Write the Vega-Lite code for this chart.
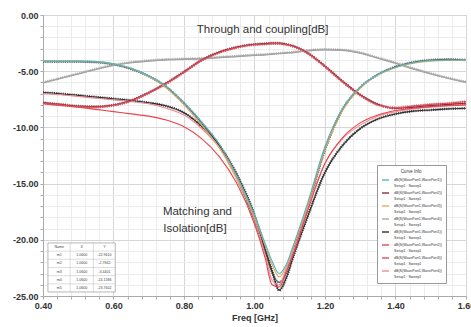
{
"$schema":"https://vega.github.io/schema/vega-lite/v6.json",
"width":423,"height":281,
"autosize":{"type":"none"},
"padding":{"left":43,"top":15,"right":5,"bottom":31},
"background":"white",
"config":{"view":{"stroke":"#b4b4b4","strokeWidth":1},"font":"Liberation Sans"},
"datasets":{
"curves":[
{"s":"s9","f":0.4,"db":-4.15},{"s":"s9","f":0.45,"db":-4.15},{"s":"s9","f":0.5,"db":-4.15},{"s":"s9","f":0.55,"db":-4.2},{"s":"s9","f":0.6,"db":-4.4},{"s":"s9","f":0.65,"db":-4.8},{"s":"s9","f":0.7,"db":-5.45},{"s":"s9","f":0.75,"db":-6.4},{"s":"s9","f":0.8,"db":-7.85},{"s":"s9","f":0.85,"db":-9.6},{"s":"s9","f":0.9,"db":-11.6},{"s":"s9","f":0.95,"db":-14.5},{"s":"s9","f":1.0,"db":-18.3},{"s":"s9","f":1.03,"db":-21.0},{"s":"s9","f":1.05,"db":-22.9},{"s":"s9","f":1.07,"db":-23.8},{"s":"s9","f":1.09,"db":-22.9},{"s":"s9","f":1.11,"db":-21.0},{"s":"s9","f":1.15,"db":-17.2},{"s":"s9","f":1.2,"db":-12.0},{"s":"s9","f":1.25,"db":-8.4},{"s":"s9","f":1.3,"db":-6.45},{"s":"s9","f":1.35,"db":-5.3},{"s":"s9","f":1.4,"db":-4.6},{"s":"s9","f":1.45,"db":-4.2},{"s":"s9","f":1.5,"db":-4.0},{"s":"s9","f":1.55,"db":-3.95},{"s":"s9","f":1.6,"db":-4.0},
{"s":"s10","f":0.4,"db":-6.05},{"s":"s10","f":0.45,"db":-5.65},{"s":"s10","f":0.5,"db":-5.25},{"s":"s10","f":0.55,"db":-4.85},{"s":"s10","f":0.6,"db":-4.5},{"s":"s10","f":0.65,"db":-4.25},{"s":"s10","f":0.7,"db":-4.1},{"s":"s10","f":0.75,"db":-4.0},{"s":"s10","f":0.8,"db":-3.95},{"s":"s10","f":0.85,"db":-3.9},{"s":"s10","f":0.9,"db":-3.8},{"s":"s10","f":0.95,"db":-3.7},{"s":"s10","f":1.0,"db":-3.6},{"s":"s10","f":1.03,"db":-3.55},{"s":"s10","f":1.05,"db":-3.5},{"s":"s10","f":1.07,"db":-3.45},{"s":"s10","f":1.09,"db":-3.4},{"s":"s10","f":1.11,"db":-3.35},{"s":"s10","f":1.15,"db":-3.2},{"s":"s10","f":1.2,"db":-3.1},{"s":"s10","f":1.25,"db":-3.15},{"s":"s10","f":1.3,"db":-3.4},{"s":"s10","f":1.35,"db":-3.85},{"s":"s10","f":1.4,"db":-4.3},{"s":"s10","f":1.45,"db":-4.8},{"s":"s10","f":1.5,"db":-5.25},{"s":"s10","f":1.55,"db":-5.65},{"s":"s10","f":1.6,"db":-6.0},
{"s":"s4","f":0.4,"db":-6.0},{"s":"s4","f":0.45,"db":-5.6},{"s":"s4","f":0.5,"db":-5.2},{"s":"s4","f":0.55,"db":-4.8},{"s":"s4","f":0.6,"db":-4.45},{"s":"s4","f":0.65,"db":-4.2},{"s":"s4","f":0.7,"db":-4.05},{"s":"s4","f":0.75,"db":-3.95},{"s":"s4","f":0.8,"db":-3.9},{"s":"s4","f":0.85,"db":-3.85},{"s":"s4","f":0.9,"db":-3.75},{"s":"s4","f":0.95,"db":-3.65},{"s":"s4","f":1.0,"db":-3.55},{"s":"s4","f":1.03,"db":-3.5},{"s":"s4","f":1.05,"db":-3.45},{"s":"s4","f":1.07,"db":-3.4},{"s":"s4","f":1.09,"db":-3.35},{"s":"s4","f":1.11,"db":-3.3},{"s":"s4","f":1.15,"db":-3.15},{"s":"s4","f":1.2,"db":-3.05},{"s":"s4","f":1.25,"db":-3.1},{"s":"s4","f":1.3,"db":-3.35},{"s":"s4","f":1.35,"db":-3.8},{"s":"s4","f":1.4,"db":-4.25},{"s":"s4","f":1.45,"db":-4.75},{"s":"s4","f":1.5,"db":-5.2},{"s":"s4","f":1.55,"db":-5.6},{"s":"s4","f":1.6,"db":-5.95},
{"s":"s5","f":0.4,"db":-6.9},{"s":"s5","f":0.45,"db":-7.0},{"s":"s5","f":0.5,"db":-7.15},{"s":"s5","f":0.55,"db":-7.3},{"s":"s5","f":0.6,"db":-7.45},{"s":"s5","f":0.65,"db":-7.6},{"s":"s5","f":0.7,"db":-7.8},{"s":"s5","f":0.75,"db":-8.1},{"s":"s5","f":0.8,"db":-8.7},{"s":"s5","f":0.85,"db":-9.9},{"s":"s5","f":0.9,"db":-11.6},{"s":"s5","f":0.95,"db":-14.2},{"s":"s5","f":1.0,"db":-17.8},{"s":"s5","f":1.03,"db":-20.8},{"s":"s5","f":1.05,"db":-22.8},{"s":"s5","f":1.07,"db":-24.5},{"s":"s5","f":1.09,"db":-23.4},{"s":"s5","f":1.11,"db":-21.5},{"s":"s5","f":1.15,"db":-18.0},{"s":"s5","f":1.2,"db":-14.0},{"s":"s5","f":1.25,"db":-11.6},{"s":"s5","f":1.3,"db":-10.1},{"s":"s5","f":1.35,"db":-9.25},{"s":"s5","f":1.4,"db":-8.8},{"s":"s5","f":1.45,"db":-8.55},{"s":"s5","f":1.5,"db":-8.45},{"s":"s5","f":1.55,"db":-8.35},{"s":"s5","f":1.6,"db":-8.3},
{"s":"s8","f":0.4,"db":-7.0},{"s":"s8","f":0.45,"db":-7.1},{"s":"s8","f":0.5,"db":-7.25},{"s":"s8","f":0.55,"db":-7.4},{"s":"s8","f":0.6,"db":-7.55},{"s":"s8","f":0.65,"db":-7.7},{"s":"s8","f":0.7,"db":-7.9},{"s":"s8","f":0.75,"db":-8.3},{"s":"s8","f":0.8,"db":-8.9},{"s":"s8","f":0.85,"db":-10.1},{"s":"s8","f":0.9,"db":-11.8},{"s":"s8","f":0.95,"db":-14.4},{"s":"s8","f":1.0,"db":-18.2},{"s":"s8","f":1.03,"db":-21.3},{"s":"s8","f":1.05,"db":-23.6},{"s":"s8","f":1.07,"db":-24.0},{"s":"s8","f":1.09,"db":-22.6},{"s":"s8","f":1.11,"db":-21.0},{"s":"s8","f":1.15,"db":-17.2},{"s":"s8","f":1.2,"db":-13.2},{"s":"s8","f":1.25,"db":-11.0},{"s":"s8","f":1.3,"db":-9.8},{"s":"s8","f":1.35,"db":-9.0},{"s":"s8","f":1.4,"db":-8.6},{"s":"s8","f":1.45,"db":-8.35},{"s":"s8","f":1.5,"db":-8.2},{"s":"s8","f":1.55,"db":-8.1},{"s":"s8","f":1.6,"db":-8.0},
{"s":"s6","f":0.4,"db":-7.9},{"s":"s6","f":0.45,"db":-8.05},{"s":"s6","f":0.5,"db":-8.2},{"s":"s6","f":0.55,"db":-8.4},{"s":"s6","f":0.6,"db":-8.6},{"s":"s6","f":0.65,"db":-8.8},{"s":"s6","f":0.7,"db":-9.0},{"s":"s6","f":0.75,"db":-9.35},{"s":"s6","f":0.8,"db":-9.95},{"s":"s6","f":0.85,"db":-11.0},{"s":"s6","f":0.9,"db":-12.6},{"s":"s6","f":0.95,"db":-15.0},{"s":"s6","f":1.0,"db":-18.6},{"s":"s6","f":1.03,"db":-21.6},{"s":"s6","f":1.05,"db":-24.0},{"s":"s6","f":1.07,"db":-24.2},{"s":"s6","f":1.09,"db":-22.9},{"s":"s6","f":1.11,"db":-21.3},{"s":"s6","f":1.15,"db":-17.5},{"s":"s6","f":1.2,"db":-13.2},{"s":"s6","f":1.25,"db":-10.9},{"s":"s6","f":1.3,"db":-9.6},{"s":"s6","f":1.35,"db":-8.9},{"s":"s6","f":1.4,"db":-8.5},{"s":"s6","f":1.45,"db":-8.3},{"s":"s6","f":1.5,"db":-8.15},{"s":"s6","f":1.55,"db":-8.05},{"s":"s6","f":1.6,"db":-8.0},
{"s":"s2","f":0.4,"db":-7.8},{"s":"s2","f":0.45,"db":-7.95},{"s":"s2","f":0.5,"db":-8.1},{"s":"s2","f":0.55,"db":-8.15},{"s":"s2","f":0.6,"db":-8.0},{"s":"s2","f":0.65,"db":-7.6},{"s":"s2","f":0.7,"db":-6.9},{"s":"s2","f":0.75,"db":-6.05},{"s":"s2","f":0.8,"db":-5.05},{"s":"s2","f":0.85,"db":-4.0},{"s":"s2","f":0.9,"db":-3.3},{"s":"s2","f":0.95,"db":-2.85},{"s":"s2","f":1.0,"db":-2.6},{"s":"s2","f":1.03,"db":-2.55},{"s":"s2","f":1.05,"db":-2.5},{"s":"s2","f":1.07,"db":-2.5},{"s":"s2","f":1.09,"db":-2.6},{"s":"s2","f":1.11,"db":-2.75},{"s":"s2","f":1.15,"db":-3.35},{"s":"s2","f":1.2,"db":-4.55},{"s":"s2","f":1.25,"db":-5.9},{"s":"s2","f":1.3,"db":-7.1},{"s":"s2","f":1.35,"db":-7.95},{"s":"s2","f":1.4,"db":-8.3},{"s":"s2","f":1.45,"db":-8.2},{"s":"s2","f":1.5,"db":-8.05},{"s":"s2","f":1.55,"db":-7.95},{"s":"s2","f":1.6,"db":-7.85},
{"s":"s7","f":0.4,"db":-7.85},{"s":"s7","f":0.45,"db":-8.0},{"s":"s7","f":0.5,"db":-8.15},{"s":"s7","f":0.55,"db":-8.2},{"s":"s7","f":0.6,"db":-8.05},{"s":"s7","f":0.65,"db":-7.65},{"s":"s7","f":0.7,"db":-6.95},{"s":"s7","f":0.75,"db":-6.1},{"s":"s7","f":0.8,"db":-5.1},{"s":"s7","f":0.85,"db":-4.05},{"s":"s7","f":0.9,"db":-3.35},{"s":"s7","f":0.95,"db":-2.9},{"s":"s7","f":1.0,"db":-2.65},{"s":"s7","f":1.03,"db":-2.6},{"s":"s7","f":1.05,"db":-2.55},{"s":"s7","f":1.07,"db":-2.55},{"s":"s7","f":1.09,"db":-2.65},{"s":"s7","f":1.11,"db":-2.8},{"s":"s7","f":1.15,"db":-3.4},{"s":"s7","f":1.2,"db":-4.6},{"s":"s7","f":1.25,"db":-5.95},{"s":"s7","f":1.3,"db":-7.15},{"s":"s7","f":1.35,"db":-8.0},{"s":"s7","f":1.4,"db":-8.25},{"s":"s7","f":1.45,"db":-8.1},{"s":"s7","f":1.5,"db":-7.95},{"s":"s7","f":1.55,"db":-7.85},{"s":"s7","f":1.6,"db":-7.7},
{"s":"s3","f":0.4,"db":-4.1},{"s":"s3","f":0.45,"db":-4.1},{"s":"s3","f":0.5,"db":-4.1},{"s":"s3","f":0.55,"db":-4.15},{"s":"s3","f":0.6,"db":-4.35},{"s":"s3","f":0.65,"db":-4.75},{"s":"s3","f":0.7,"db":-5.45},{"s":"s3","f":0.75,"db":-6.5},{"s":"s3","f":0.8,"db":-8.0},{"s":"s3","f":0.85,"db":-9.8},{"s":"s3","f":0.9,"db":-11.8},{"s":"s3","f":0.95,"db":-14.6},{"s":"s3","f":1.0,"db":-18.0},{"s":"s3","f":1.03,"db":-20.5},{"s":"s3","f":1.05,"db":-22.2},{"s":"s3","f":1.07,"db":-23.3},{"s":"s3","f":1.09,"db":-22.4},{"s":"s3","f":1.11,"db":-20.6},{"s":"s3","f":1.15,"db":-17.0},{"s":"s3","f":1.2,"db":-12.0},{"s":"s3","f":1.25,"db":-8.5},{"s":"s3","f":1.3,"db":-6.5},{"s":"s3","f":1.35,"db":-5.35},{"s":"s3","f":1.4,"db":-4.7},{"s":"s3","f":1.45,"db":-4.3},{"s":"s3","f":1.5,"db":-4.1},{"s":"s3","f":1.55,"db":-4.05},{"s":"s3","f":1.6,"db":-4.05},
{"s":"s1","f":0.4,"db":-4.1},{"s":"s1","f":0.45,"db":-4.1},{"s":"s1","f":0.5,"db":-4.1},{"s":"s1","f":0.55,"db":-4.15},{"s":"s1","f":0.6,"db":-4.35},{"s":"s1","f":0.65,"db":-4.75},{"s":"s1","f":0.7,"db":-5.4},{"s":"s1","f":0.75,"db":-6.35},{"s":"s1","f":0.8,"db":-7.8},{"s":"s1","f":0.85,"db":-9.5},{"s":"s1","f":0.9,"db":-11.5},{"s":"s1","f":0.95,"db":-14.3},{"s":"s1","f":1.0,"db":-17.8},{"s":"s1","f":1.03,"db":-20.3},{"s":"s1","f":1.05,"db":-21.9},{"s":"s1","f":1.07,"db":-23.0},{"s":"s1","f":1.09,"db":-22.2},{"s":"s1","f":1.11,"db":-20.5},{"s":"s1","f":1.15,"db":-16.8},{"s":"s1","f":1.2,"db":-11.7},{"s":"s1","f":1.25,"db":-8.3},{"s":"s1","f":1.3,"db":-6.4},{"s":"s1","f":1.35,"db":-5.3},{"s":"s1","f":1.4,"db":-4.65},{"s":"s1","f":1.45,"db":-4.25},{"s":"s1","f":1.5,"db":-4.05},{"s":"s1","f":1.55,"db":-4.0},{"s":"s1","f":1.6,"db":-4.0}
],
"notes":[
{"t":"Through and coupling[dB]","f":1.023,"db":-1.35},
{"t":"Matching and","f":0.838,"db":-17.5},
{"t":"Isolation[dB]","f":0.831,"db":-19.0}
],
"tbox":[{"f":0.414,"f2":0.605,"db":-20.28,"db2":-24.64}],
"trules":[
{"f":0.414,"f2":0.605,"db":-21.01,"db2":-21.01},
{"f":0.414,"f2":0.605,"db":-21.73,"db2":-21.73},
{"f":0.414,"f2":0.605,"db":-22.46,"db2":-22.46},
{"f":0.414,"f2":0.605,"db":-23.19,"db2":-23.19},
{"f":0.414,"f2":0.605,"db":-23.92,"db2":-23.92},
{"f":0.477,"f2":0.477,"db":-20.28,"db2":-24.64},
{"f":0.543,"f2":0.543,"db":-20.28,"db2":-24.64}
],
"tcells":[
{"t":"Name","f":0.446,"db":-20.64},{"t":"X","f":0.51,"db":-20.64},{"t":"Y","f":0.574,"db":-20.64},
{"t":"m1","f":0.446,"db":-21.37},{"t":"1.0600","f":0.51,"db":-21.37},{"t":"-22.9610","f":0.574,"db":-21.37},
{"t":"m2","f":0.446,"db":-22.10},{"t":"1.0600","f":0.51,"db":-22.10},{"t":"-2.7842","f":0.574,"db":-22.10},
{"t":"m3","f":0.446,"db":-22.83},{"t":"1.0600","f":0.51,"db":-22.83},{"t":"-3.4401","f":0.574,"db":-22.83},
{"t":"m4","f":0.446,"db":-23.55},{"t":"1.0600","f":0.51,"db":-23.55},{"t":"-24.1586","f":0.574,"db":-23.55},
{"t":"m5","f":0.446,"db":-24.28},{"t":"1.0600","f":0.51,"db":-24.28},{"t":"-23.7602","f":0.574,"db":-24.28}
]
},
"encoding":{
"x":{"field":"f","type":"quantitative","scale":{"domain":[0.4,1.6],"nice":false,"zero":false},
"axis":{"values":[0.4,0.44,0.48,0.52,0.56,0.6,0.64,0.68,0.72,0.76,0.8,0.84,0.88,0.92,0.96,1.0,1.04,1.08,1.12,1.16,1.2,1.24,1.28,1.32,1.36,1.4,1.44,1.48,1.52,1.56,1.6],
"labelExpr":"abs(datum.value*5-round(datum.value*5))<0.001 ? format(datum.value,'.2f') : ''",
"title":"Freq [GHz]","titleFontSize":9,"titleFontWeight":"bold","titleColor":"#333","titlePadding":3,
"labelFontSize":9,"labelFontWeight":"bold","labelColor":"#333","labelPadding":2,"labelFlush":false,"labelOverlap":false,
"tickSize":3,"tickColor":"#aaa","domainColor":"#aaa",
"gridColor":{"condition":{"test":"abs(datum.value*5-round(datum.value*5))<0.001","value":"#d6d6d6"},"value":"#ececec"}}},
"y":{"field":"db","type":"quantitative","scale":{"domain":[-25,0],"nice":false,"zero":false},
"axis":{"values":[-25,-24,-23,-22,-21,-20,-19,-18,-17,-16,-15,-14,-13,-12,-11,-10,-9,-8,-7,-6,-5,-4,-3,-2,-1,0],
"labelExpr":"datum.value % 5 == 0 ? (datum.value<0 ? '-' : '') + format(abs(datum.value),'.2f') : ''",
"title":null,"labelFontSize":9,"labelFontWeight":"bold","labelColor":"#333","labelPadding":2,"labelOverlap":false,
"tickSize":3,"tickColor":"#aaa","domainColor":"#aaa",
"gridColor":{"condition":{"test":"datum.value % 5 == 0","value":"#d6d6d6"},"value":"#ececec"}}}
},
"layer":[
{"data":{"name":"curves"},
"transform":[{"filter":{"field":"s","oneOf":["s2","s4","s5","s7","s9"]}}],
"mark":{"type":"line","interpolate":"monotone","strokeWidth":2.6,"strokeDash":[1,1.2],"opacity":0.85},
"encoding":{"color":{"field":"s","type":"nominal",
"scale":{"domain":["s1","s2","s3","s4","s5","s6","s7","s8","s9","s10"],"range":["#52b5c2","#8a2a3c","#e0aa5e","#a9a9a9","#2e2e2e","#e8444c","#d9505a","#f08a96","#5c5c5c","#9c9c9c"]}}}},
{"data":{"name":"curves"},
"mark":{"type":"line","interpolate":"monotone","strokeWidth":1.1},
"encoding":{"color":{"field":"s","type":"nominal",
"scale":{"domain":["s1","s2","s3","s4","s5","s6","s7","s8","s9","s10"],"range":["#52b5c2","#8a2a3c","#e0aa5e","#a9a9a9","#2e2e2e","#e8444c","#d9505a","#f08a96","#5c5c5c","#9c9c9c"]},
"legend":{"orient":"none","legendX":334,"legendY":150,"values":["s1","s2","s3","s4","s5","s6","s7","s8"],
"title":"Curve Info","titleFontSize":4.5,"titleFontWeight":"normal","titleColor":"#333","titleAnchor":"middle","titlePadding":2,
"labelFontSize":3.6,"labelColor":"#333","labelLimit":200,
"labelExpr":"[{'s1':'dB(S(WavePort1,WavePort1))','s2':'dB(S(WavePort1,WavePort2))','s3':'dB(S(WavePort1,WavePort3))','s4':'dB(S(WavePort1,WavePort4))','s5':'dB(S(WavePort1,WavePort1))','s6':'dB(S(WavePort1,WavePort2))','s7':'dB(S(WavePort1,WavePort3))','s8':'dB(S(WavePort1,WavePort4))'}[datum.value], 'Setup1 : Sweep1']",
"symbolType":"stroke","symbolSize":50,"symbolStrokeWidth":1.6,
"fillColor":"white","strokeColor":"#999","padding":4,"rowPadding":1}}}},
{"data":{"name":"notes"},
"mark":{"type":"text","fontSize":11.5,"font":"Liberation Sans","color":"#333"},
"encoding":{"text":{"field":"t"}}},
{"data":{"name":"tbox"},
"mark":{"type":"rect","fill":"white","stroke":"#999","strokeWidth":0.7},
"encoding":{"x2":{"field":"f2"},"y2":{"field":"db2"}}},
{"data":{"name":"trules"},
"mark":{"type":"rule","stroke":"#bbb","strokeWidth":0.5},
"encoding":{"x2":{"field":"f2"},"y2":{"field":"db2"}}},
{"data":{"name":"tcells"},
"mark":{"type":"text","fontSize":3.6,"font":"Liberation Sans","color":"#444"},
"encoding":{"text":{"field":"t"}}}
]
}
